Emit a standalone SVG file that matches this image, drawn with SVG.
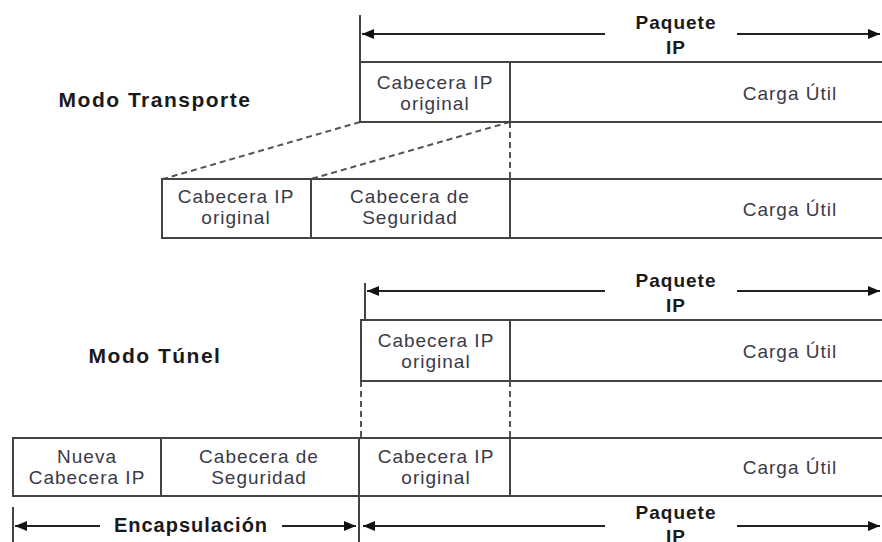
<svg xmlns="http://www.w3.org/2000/svg" width="882" height="542" viewBox="0 0 882 542">
<defs>
<marker id="ah" viewBox="0 0 12 10" refX="12" refY="5" markerWidth="12" markerHeight="10" markerUnits="userSpaceOnUse" orient="auto-start-reverse">
<path d="M0,0 L12,5 L0,10 Z" fill="#111"/>
</marker>
<style>
.box{fill:#fff;stroke:#444;stroke-width:2}
.ln{stroke:#444;stroke-width:2;fill:none}
.arr{stroke:#222;stroke-width:2;fill:none}
.dash{stroke:#555;stroke-width:2;fill:none;stroke-dasharray:6 4}
.t{font-family:"Liberation Sans",Arial,sans-serif;font-size:19px;letter-spacing:1px;fill:#3a3a48;text-anchor:middle}
.b{font-family:"Liberation Sans",Arial,sans-serif;font-size:19px;font-weight:bold;letter-spacing:1px;fill:#1a1a1a;text-anchor:middle}
.m{font-size:21px;letter-spacing:1.5px}
</style>
</defs>
<rect width="882" height="542" fill="#fff"/>

<g id="connectors">
<line class="ln" x1="360" y1="15" x2="360" y2="62"/>
<line class="arr" x1="605" y1="34" x2="362" y2="34" marker-end="url(#ah)"/>
<line class="arr" x1="737" y1="34" x2="880" y2="34" marker-end="url(#ah)"/>
<line class="dash" x1="360" y1="122" x2="163" y2="179"/>
<line class="dash" x1="510" y1="122" x2="311" y2="179"/>
<line class="dash" x1="510" y1="122" x2="510" y2="179"/>
<line class="ln" x1="365" y1="283" x2="365" y2="320"/>
<line class="arr" x1="605" y1="291" x2="367" y2="291" marker-end="url(#ah)"/>
<line class="arr" x1="737" y1="291" x2="880" y2="291" marker-end="url(#ah)"/>
<line class="dash" x1="361" y1="381" x2="361" y2="438"/>
<line class="dash" x1="510" y1="381" x2="510" y2="438"/>
<line class="ln" x1="13" y1="507" x2="13" y2="542"/>
<line class="ln" x1="359" y1="496" x2="359" y2="542"/>
<line class="arr" x1="100" y1="526" x2="15" y2="526" marker-end="url(#ah)"/>
<line class="arr" x1="282" y1="526" x2="356" y2="526" marker-end="url(#ah)"/>
<line class="arr" x1="605" y1="526" x2="363" y2="526" marker-end="url(#ah)"/>
<line class="arr" x1="737" y1="526" x2="880" y2="526" marker-end="url(#ah)"/>
</g>

<g id="lbl-paquete-1">
<text class="b" x="676" y="29">Paquete</text>
<text class="b" x="676" y="54">IP</text>
</g>
<g id="lbl-modo-transporte"><text class="b m" x="155" y="107">Modo Transporte</text></g>

<g id="t-orig-hdr">
<rect class="box" x="360" y="62" width="150" height="60"/>
<text class="t" x="435" y="89">Cabecera IP</text>
<text class="t" x="435" y="110">original</text>
</g>
<g id="t-orig-payload">
<rect class="box" x="510" y="62" width="380" height="60"/>
<text class="t" x="790" y="100">Carga Útil</text>
</g>

<g id="t2-hdr">
<rect class="box" x="162" y="179" width="149" height="59"/>
<text class="t" x="236" y="203">Cabecera IP</text>
<text class="t" x="236" y="224">original</text>
</g>
<g id="t2-sec">
<rect class="box" x="311" y="179" width="199" height="59"/>
<text class="t" x="410" y="203">Cabecera de</text>
<text class="t" x="410" y="224">Seguridad</text>
</g>
<g id="t2-payload">
<rect class="box" x="510" y="179" width="380" height="59"/>
<text class="t" x="790" y="216">Carga Útil</text>
</g>

<g id="lbl-paquete-2">
<text class="b" x="676" y="287">Paquete</text>
<text class="b" x="676" y="312">IP</text>
</g>
<g id="lbl-modo-tunel"><text class="b m" x="155" y="363">Modo Túnel</text></g>

<g id="u-orig-hdr">
<rect class="box" x="361" y="320" width="149" height="61"/>
<text class="t" x="436" y="347">Cabecera IP</text>
<text class="t" x="436" y="368">original</text>
</g>
<g id="u-orig-payload">
<rect class="box" x="510" y="320" width="380" height="61"/>
<text class="t" x="790" y="358">Carga Útil</text>
</g>

<g id="u2-new-hdr">
<rect class="box" x="13" y="438" width="148" height="58"/>
<text class="t" x="87" y="463">Nueva</text>
<text class="t" x="87" y="484">Cabecera IP</text>
</g>
<g id="u2-sec">
<rect class="box" x="161" y="438" width="198" height="58"/>
<text class="t" x="259" y="463">Cabecera de</text>
<text class="t" x="259" y="484">Seguridad</text>
</g>
<g id="u2-hdr">
<rect class="box" x="359" y="438" width="151" height="58"/>
<text class="t" x="436" y="463">Cabecera IP</text>
<text class="t" x="436" y="484">original</text>
</g>
<g id="u2-payload">
<rect class="box" x="510" y="438" width="380" height="58"/>
<text class="t" x="790" y="474">Carga Útil</text>
</g>

<g id="lbl-encap"><text class="b" x="191" y="532" style="font-size:20px">Encapsulación</text></g>
<g id="lbl-paquete-3">
<text class="b" x="676" y="519">Paquete</text>
<text class="b" x="676" y="543">IP</text>
</g>
</svg>
